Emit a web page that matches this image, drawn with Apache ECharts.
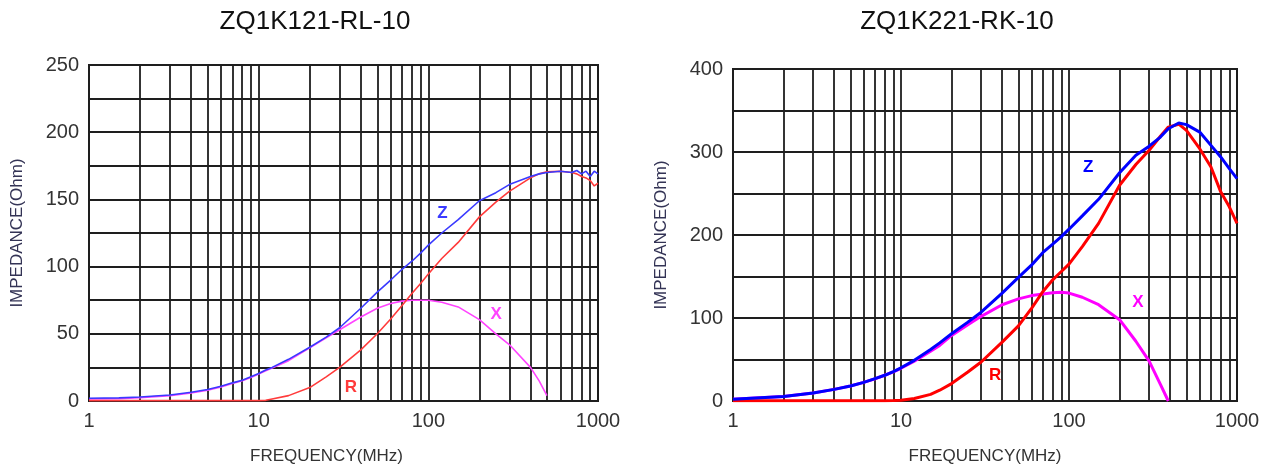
<!DOCTYPE html>
<html><head><meta charset="utf-8">
<script src="https://cdn.jsdelivr.net/npm/echarts@6/dist/echarts.min.js"></script>
<style>html,body{margin:0;padding:0;background:#fff}#c{width:1278px;height:470px}</style>
</head><body><div id="c"></div>
<script>
const titles = ['ZQ1K121-RL-10', 'ZQ1K221-RK-10'];
const xName = 'FREQUENCY(MHz)';
const yName = 'IMPEDANCE(Ohm)';
const minorFreqs = [2,3,4,5,6,7,8,9,20,30,40,50,60,70,80,90,200,300,400,500,600,700,800,900];

// Left chart: ZQ1K121-RL-10
const freqL = [1,1.5,2,3,4,5,6,7,8,9,10,11,12,15,20,25,30,40,50,60,70,80,90,100,120,150,200,250,300,400,450,500,600,700,750,800,850,900,950,1000];
const zL = [2,2.3,3,4.5,6.5,8.5,11,13.5,15.5,18,20.5,23,25,31,40,47.5,54.5,69,81,90,98,104,110,116,125,135,149,155,161,167,169,170,171,170,171.5,169,171,167,171,169];
const rL = [0.3,0.3,0.3,0.3,0.3,0.3,0.3,0.3,0.3,0.3,0.3,0.5,1.5,4,10,18,25,38,50,61,71,80,87.5,94.5,106,118,137,148,156,166,169,170.5,171,170,169,167,166,164,160,162];
const xL = [1.5,1.8,2.5,4,6,8,10.5,13,15,17.5,20,22.5,24.5,30,39.5,47,53,62.5,69,72.5,74.3,75,75,75,73.5,70,60.5,50,42,25,15,4,null,null,null,null,null,null,null,null];

// Right chart: ZQ1K221-RK-10
const freqR = [1,1.2,2,3,4,5,6,7,8,9,10,12,15,17,20,25,30,40,50,60,70,80,90,100,120,150,200,250,300,350,390,400,450,500,600,700,800,900,1000];
const zR = [2,3,5.5,9.7,14,18,22.5,27,31,35.5,40,49,62,70,81,95,107,130,149,164,179,189,198,207,223,243,275,296,307,318,328,330,335,333,324,308,294,280,268];
const rR = [0.3,0.3,0.3,0.3,0.3,0.3,0.3,0.3,0.3,0.5,1,3,8,13,21,35,47,71,90.5,112,132,146,156,165,186,214,260,285,302,319,330,331,333.5,326,304,282,252,234,214];
const xR = [2,3,5.5,9.7,14,18,22.5,26.7,31,35,39.4,48,60,67,79,92,102,116,123,127,129,130.5,131,130,125,116,98,72,48,20,0,null,null,null,null,null,null,null,null];

// curve label anchors [freq, value]
const labelsL = {Z:[121,140], R:[35,10.4], X:[251,64.5]};
const labelsR = {Z:[130,282], R:[36.3,31.4], X:[257,118.6]};

const FONT = "'Liberation Sans', Arial, Helvetica, sans-serif";
const GRID_COLOR = '#1e1e1e';

function pairs(f, v){ return f.map((x,i)=>[x, v[i]]); }

function curve(name, f, v, color, width, gi, lab){
  return {
    type:'line', name, xAxisIndex:gi, yAxisIndex:gi, data:pairs(f,v), showSymbol:false,
    symbol:'none', connectNulls:false, z:5,
    lineStyle:{color, width}, itemStyle:{color},
    markPoint:{symbol:'circle', symbolSize:0, silent:true,
      label:{show:true, position:'inside', formatter:name, color, fontSize:17, fontWeight:'bold', fontFamily:FONT},
      data:[{coord:lab}]}
  };
}

function gridSeries(gi){
  return {type:'line', xAxisIndex:gi, yAxisIndex:gi, data:[], z:1, silent:true,
    markLine:{symbol:['none','none'], silent:true, animation:false, label:{show:false},
      lineStyle:{color:GRID_COLOR, width:1.8, type:'solid'},
      data: minorFreqs.map(f=>({xAxis:f}))}};
}

function xAxis(gi, pad){
  return {type:'log', logBase:10, min:1, max:1000, gridIndex:gi,
    name:xName, nameLocation:'middle', nameGap:47,
    nameTextStyle:{fontSize:17, color:'#333', fontFamily:FONT, padding:pad},
    axisLine:{show:true, lineStyle:{color:GRID_COLOR, width:2}},
    axisTick:{show:false},
    axisLabel:{fontSize:20, color:'#333', fontFamily:FONT, margin:10, formatter:v=>String(Math.round(v))},
    splitLine:{show:true, lineStyle:{color:GRID_COLOR, width:1.8}}};
}
function yAxis(gi, max, interval){
  return {type:'value', min:0, max, interval, gridIndex:gi,
    name:yName, nameLocation:'middle', nameRotate:90, nameGap:63,
    nameTextStyle:{fontSize:17, color:'#333355', fontFamily:FONT},
    axisLine:{show:true, lineStyle:{color:GRID_COLOR, width:2}},
    axisTick:{show:false},
    axisLabel:{fontSize:20, color:'#333', fontFamily:FONT, margin:10},
    splitLine:{show:true, lineStyle:{color:GRID_COLOR, width:1.8}},
    minorTick:{show:false, splitNumber:2},
    minorSplitLine:{show:true, lineStyle:{color:GRID_COLOR, width:1.8}}};
}

const chart = echarts.init(document.getElementById('c'), null, {renderer:'canvas'});
chart.setOption({
  animation:false,
  backgroundColor:'#fff',
  title:[
    {text:titles[0], left:315, top:9, textAlign:'center', padding:0,
      textStyle:{fontSize:26, fontWeight:'normal', color:'#111', fontFamily:FONT}},
    {text:titles[1], left:957, top:9, textAlign:'center', padding:0,
      textStyle:{fontSize:26, fontWeight:'normal', color:'#111', fontFamily:FONT}}
  ],
  grid:[
    {left:89, top:65, width:509, height:337, show:true, borderColor:GRID_COLOR, borderWidth:2},
    {left:733, top:69, width:504, height:335, show:true, borderColor:GRID_COLOR, borderWidth:2}
  ],
  xAxis:[xAxis(0,[0,34,0,0]), xAxis(1,[0,0,0,0])],
  yAxis:[yAxis(0,250,50), yAxis(1,400,100)],
  series:[
    gridSeries(0), gridSeries(1),
    curve('X', freqL, xL, '#ff44ff', 1.6, 0, labelsL.X),
    curve('R', freqL, rL, '#ff3b3b', 1.6, 0, labelsL.R),
    curve('Z', freqL, zL, '#3a3aff', 1.6, 0, labelsL.Z),
    curve('X', freqR, xR, '#ff00ff', 3, 1, labelsR.X),
    curve('R', freqR, rR, '#ff0000', 3, 1, labelsR.R),
    curve('Z', freqR, zR, '#0000ff', 3, 1, labelsR.Z)
  ]
});
</script>
</body></html>
